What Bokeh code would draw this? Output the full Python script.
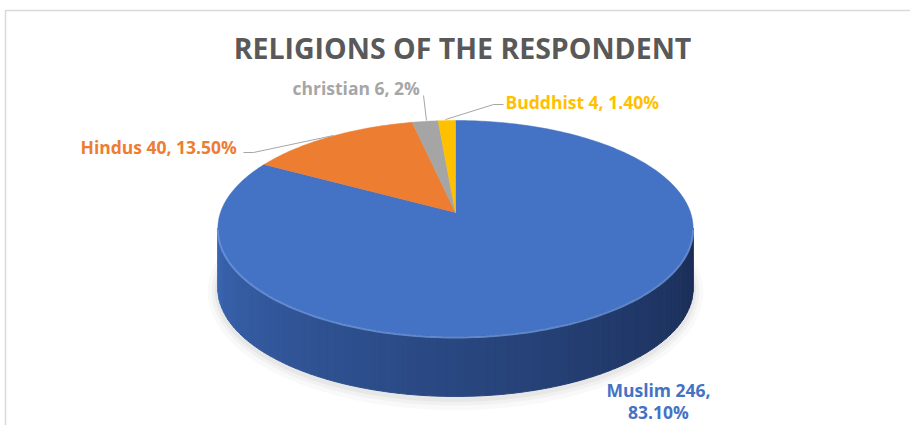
import numpy as np
from bokeh.plotting import figure
from bokeh.models import Range1d
from bokeh.core.properties import value
from bokeh.embed import file_html
from bokeh.resources import INLINE

# ---- data ----
categories = ["Muslim", "Hindus", "christian", "Buddhist"]
counts = [246, 40, 6, 4]
pct_labels = ["83.10%", "13.50%", "2%", "1.40%"]
chart_title = "RELIGIONS OF THE RESPONDENT"

# ---- style ----
colors = ["#4472C4", "#ED7D31", "#A5A5A5", "#FFC000"]
label_colors = ["#4472C4", "#ED7D31", "#A6A6A6", "#FFC000"]
FONT = value("Open Sans")
LFS = "17.5px"

W, H = 910, 425
CX, CY = 455, 212
RX, RY, K = 235.0, 105.6, 0.148
DEPTH = 60


def proj(theta, dy=0.0):
    """theta measured clockwise from the back (top) of the pie, radians."""
    u = np.sin(theta)
    v = np.cos(theta)
    w = 1.0 / (1.0 + K * v)
    return CX + RX * u * w, CY - RY * v * w + dy


p = figure(width=W, height=H, x_range=Range1d(0, W), y_range=Range1d(H, 0),
           output_backend="svg", toolbar_location=None, min_border=0)
p.axis.visible = False
p.grid.visible = False
p.outline_line_color = None
p.background_fill_color = "white"
p.border_fill_color = "white"

# chart border (light gray)
p.line([5, 5, W], [H, 10, 10], line_color="#D9D9D9", line_width=1.5)

# soft shadow
thL = 2 * np.pi - np.arccos(-K)
thR = np.arccos(-K)
ts = np.linspace(0, 2 * np.pi, 200)
for grow, alpha in [(10, 0.025), (6, 0.03), (3, 0.04)]:
    sx, sy = proj(ts, DEPTH + 2)
    sx = CX + (sx - CX) * (1 + grow / RX)
    sy = (CY + DEPTH + 2) + (sy - (CY + DEPTH + 2)) * (1 + grow / RY)
    p.patch(sx, sy, fill_color="black", fill_alpha=alpha, line_color=None)

# side of the pie (front half, all Muslim) with a gradient
c_left = np.array([0x3B, 0x67, 0xB4])
c_right = np.array([0x1A, 0x2C, 0x54])
n = 80
edges = np.linspace(thR, thL, n + 1)
xs_side, ys_side, cols = [], [], []
for i in range(n):
    a0, a1 = edges[i], edges[i + 1]
    tt = np.linspace(a0, a1, 4)
    x_top, y_top = proj(tt)
    x_bot, y_bot = proj(tt[::-1], DEPTH)
    xs_side.append(list(x_top) + list(x_bot))
    ys_side.append(list(y_top) + list(y_bot))
    f = 1 - ((a0 + a1) / 2 - thR) / (thL - thR)  # 0 at left, 1 at right
    f = f ** 0.9
    c = (c_left * (1 - f) + c_right * f).astype(int)
    cols.append("#%02x%02x%02x" % tuple(c))
p.patches(xs_side, ys_side, fill_color=cols, line_color=cols, line_width=1)

# top face wedges
total = float(sum(counts))
fracs = [c / total for c in counts]
start = 0.0
for frac, col in zip(fracs, colors):
    a0 = start * 2 * np.pi
    a1 = (start + frac) * 2 * np.pi
    tt = np.linspace(a0, a1, max(4, int(400 * frac)))
    ax, ay = proj(tt)
    p.patch([CX] + list(ax), [CY] + list(ay), fill_color=col, line_color=col, line_width=0.5)
    start += frac

# rim highlight along the front edge
tt = np.linspace(thR, thL, 150)
hx, hy = proj(tt)
p.line(hx, hy + 1, line_color="#6E97DC", line_width=2, line_alpha=0.8)

# leader lines
p.line([243, 253, 333], [152, 152, 135], line_color="#A6A6A6", line_width=1)
p.line([423, 426], [95, 120], line_color="#A6A6A6", line_width=1)
p.line([445, 493, 503], [119, 104, 104], line_color="#A6A6A6", line_width=1)

# title
p.text(x=[462], y=[47], text=[chart_title], text_font=FONT, text_font_style="bold",
       text_font_size="28.5px", text_color="#595959", text_align="center",
       text_baseline="middle")

# data labels
lab = [f"{c} {v}, {pc}" for c, v, pc in zip(categories, counts, pct_labels)]
p.text(x=[80], y=[146], text=[lab[1]], text_font=FONT, text_font_style="bold",
       text_font_size=LFS, text_color=label_colors[1], text_align="left",
       text_baseline="middle")
p.text(x=[292], y=[87], text=[lab[2]], text_font=FONT, text_font_style="bold",
       text_font_size=LFS, text_color=label_colors[2], text_align="left",
       text_baseline="middle")
p.text(x=[505], y=[101], text=[lab[3]], text_font=FONT, text_font_style="bold",
       text_font_size=LFS, text_color=label_colors[3], text_align="left",
       text_baseline="middle")
p.text(x=[658, 658], y=[389, 411],
       text=[f"{categories[0]} {counts[0]},", pct_labels[0]], text_font=FONT,
       text_font_style="bold", text_font_size=LFS, text_color=label_colors[0],
       text_align="center", text_baseline="middle")

open("out.html", "w").write(file_html(p, INLINE))
